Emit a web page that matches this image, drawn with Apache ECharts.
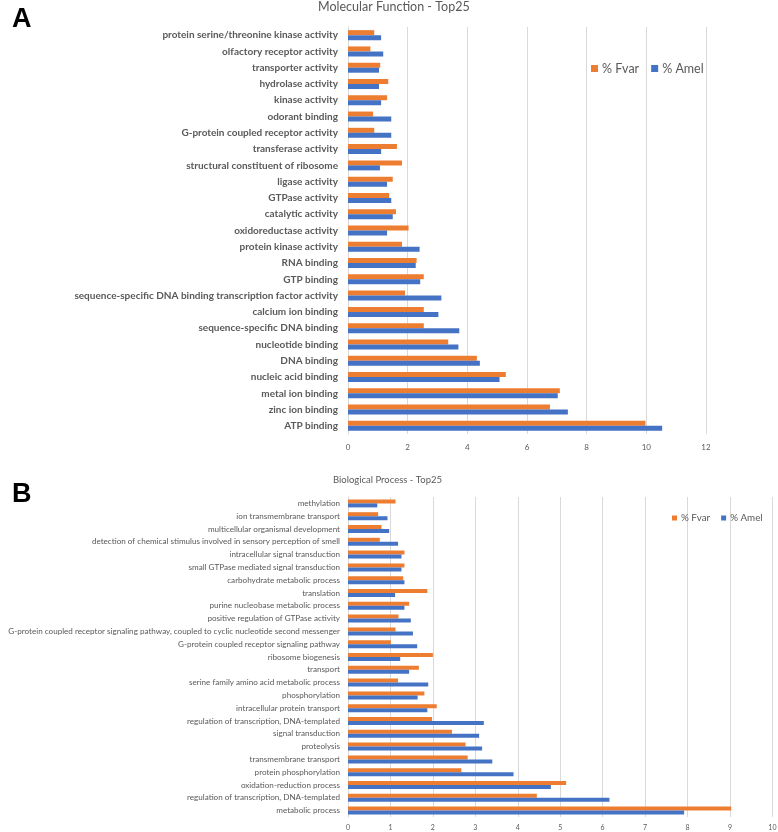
<!DOCTYPE html>
<html>
<head>
<meta charset="utf-8">
<script src="https://cdn.jsdelivr.net/npm/echarts@6/dist/echarts.min.js"></script>
<style>
  html, body { margin: 0; padding: 0; background: #ffffff; }
  #chart { width: 778px; height: 832px; }
</style>
</head>
<body>
<div id="chart"></div>
<script>
// ---------- Panel A: Molecular Function - Top25 (top to bottom) ----------
const mfCategories = [
  "protein serine/threonine kinase activity",
  "olfactory receptor activity",
  "transporter activity",
  "hydrolase activity",
  "kinase activity",
  "odorant binding",
  "G-protein coupled receptor activity",
  "transferase activity",
  "structural constituent of ribosome",
  "ligase activity",
  "GTPase activity",
  "catalytic activity",
  "oxidoreductase activity",
  "protein kinase activity",
  "RNA binding",
  "GTP binding",
  "sequence-specific DNA binding transcription factor activity",
  "calcium ion binding",
  "sequence-specific DNA binding",
  "nucleotide binding",
  "DNA binding",
  "nucleic acid binding",
  "metal ion binding",
  "zinc ion binding",
  "ATP binding"
];
const mfFvar = [0.88, 0.75, 1.08, 1.35, 1.31, 0.84, 0.88, 1.64, 1.81, 1.50, 1.38, 1.61, 2.03, 1.81, 2.30, 2.54, 1.91, 2.54, 2.54, 3.36, 4.32, 5.29, 7.10, 6.77, 9.97];
const mfAmel = [1.11, 1.18, 1.04, 1.04, 1.11, 1.45, 1.45, 1.11, 1.07, 1.31, 1.45, 1.50, 1.31, 2.40, 2.27, 2.42, 3.13, 3.03, 3.73, 3.70, 4.42, 5.08, 7.03, 7.37, 10.53];
const mfTicks = { min: 0, max: 12, interval: 2 };

// ---------- Panel B: Biological Process - Top25 (top to bottom) ----------
const bpCategories = [
  "methylation",
  "ion transmembrane transport",
  "multicellular organismal development",
  "detection of chemical stimulus involved in sensory perception of smell",
  "intracellular signal transduction",
  "small GTPase mediated signal transduction",
  "carbohydrate metabolic process",
  "translation",
  "purine nucleobase metabolic process",
  "positive regulation of GTPase activity",
  "G-protein coupled receptor signaling pathway, coupled to cyclic nucleotide second messenger",
  "G-protein coupled receptor signaling pathway",
  "ribosome biogenesis",
  "transport",
  "serine family amino acid metabolic process",
  "phosphorylation",
  "intracellular protein transport",
  "regulation of transcription, DNA-templated",
  "signal transduction",
  "proteolysis",
  "transmembrane transport",
  "protein phosphorylation",
  "oxidation-reduction process",
  "regulation of transcription, DNA-templated",
  "metabolic process"
];
const bpFvar = [1.12, 0.71, 0.79, 0.75, 1.33, 1.33, 1.30, 1.87, 1.44, 1.19, 1.12, 1.01, 2.00, 1.67, 1.18, 1.80, 2.09, 1.98, 2.45, 2.77, 2.82, 2.67, 5.14, 4.45, 9.03];
const bpAmel = [0.69, 0.93, 0.97, 1.18, 1.26, 1.26, 1.33, 1.11, 1.33, 1.48, 1.53, 1.63, 1.23, 1.44, 1.89, 1.64, 1.87, 3.20, 3.09, 3.16, 3.40, 3.90, 4.78, 6.16, 7.92];
const bpTicks = { min: 0, max: 10, interval: 1 };

const seriesNames = ["% Fvar", "% Amel"];
const titles = ["Molecular Function - Top25", "Biological Process - Top25"];
const panelLetters = ["A", "B"];

const ORANGE = "#ED7D31";
const BLUE = "#4472C4";
const TEXT = "#595959";
const GRID = "#d9d9d9";
const FONT = "Lato, 'Open Sans', sans-serif";

const chart = echarts.init(document.getElementById("chart"), null, { renderer: "canvas" });

const option = {
  animation: false,
  backgroundColor: "#ffffff",
  textStyle: { fontFamily: FONT },
  title: [
    { text: panelLetters[0], left: 12, top: 6, padding: 0,
      textStyle: { fontFamily: "'Liberation Sans', Arial, sans-serif", fontSize: 27, fontWeight: "bold", color: "#000" } },
    { text: titles[0], left: 318, top: 0, padding: 0,
      textStyle: { fontFamily: FONT, fontSize: 12.5, fontWeight: "normal", color: TEXT } },
    { text: panelLetters[1], left: 12, top: 481, padding: 0,
      textStyle: { fontFamily: "'Liberation Sans', Arial, sans-serif", fontSize: 27, fontWeight: "bold", color: "#000" } },
    { text: titles[1], left: 333, top: 475, padding: 0,
      textStyle: { fontFamily: FONT, fontSize: 9.5, fontWeight: "normal", color: TEXT } }
  ],
  legend: [
    { data: seriesNames, left: 591, top: 62, padding: 0, itemWidth: 7, itemHeight: 7, itemGap: 12,
      icon: "rect", textStyle: { fontFamily: FONT, fontSize: 12.5, color: TEXT, padding: [0, 0, 0, -1] } },
    { data: seriesNames, left: 672, top: 513, padding: 0, itemWidth: 5, itemHeight: 5, itemGap: 11,
      icon: "rect", textStyle: { fontFamily: FONT, fontSize: 9.8, color: TEXT, padding: [0, 0, 0, -1] } }
  ],
  grid: [
    { left: 348, top: 27, width: 358, height: 407, containLabel: false, outerBoundsMode: "none" },
    { left: 348, top: 497, width: 424.4, height: 320, containLabel: false, outerBoundsMode: "none" }
  ],
  xAxis: [
    { type: "value", gridIndex: 0, min: mfTicks.min, max: mfTicks.max, interval: mfTicks.interval,
      axisLine: { show: false }, axisTick: { show: false },
      splitLine: { show: true, lineStyle: { color: GRID, width: 1 } },
      axisLabel: { fontFamily: FONT, fontSize: 8, color: TEXT, margin: 9 } },
    { type: "value", gridIndex: 1, min: bpTicks.min, max: bpTicks.max, interval: bpTicks.interval,
      axisLine: { show: false }, axisTick: { show: false },
      splitLine: { show: true, lineStyle: { color: GRID, width: 1 } },
      axisLabel: { fontFamily: FONT, fontSize: 7, color: TEXT, margin: 7 } }
  ],
  yAxis: [
    { type: "category", gridIndex: 0, data: mfCategories, inverse: true,
      axisLine: { show: true, lineStyle: { color: GRID } }, axisTick: { show: false },
      axisLabel: { fontFamily: FONT, fontSize: 10, fontWeight: "bold", color: TEXT, margin: 10, interval: 0 } },
    { type: "category", gridIndex: 1, data: bpCategories, inverse: true,
      axisLine: { show: true, lineStyle: { color: GRID } }, axisTick: { show: false },
      axisLabel: { fontFamily: FONT, fontSize: 8.1, color: TEXT, margin: 8, interval: 0 } }
  ],
  series: [
    { name: seriesNames[0], type: "bar", xAxisIndex: 0, yAxisIndex: 0, data: mfFvar,
      barWidth: 5, barGap: "0%", itemStyle: { color: ORANGE } },
    { name: seriesNames[1], type: "bar", xAxisIndex: 0, yAxisIndex: 0, data: mfAmel,
      barWidth: 5, barGap: "0%", itemStyle: { color: BLUE } },
    { name: seriesNames[0], type: "bar", xAxisIndex: 1, yAxisIndex: 1, data: bpFvar,
      barWidth: 4, barGap: "0%", itemStyle: { color: ORANGE } },
    { name: seriesNames[1], type: "bar", xAxisIndex: 1, yAxisIndex: 1, data: bpAmel,
      barWidth: 4, barGap: "0%", itemStyle: { color: BLUE } }
  ]
};

chart.setOption(option);
</script>
</body>
</html>
